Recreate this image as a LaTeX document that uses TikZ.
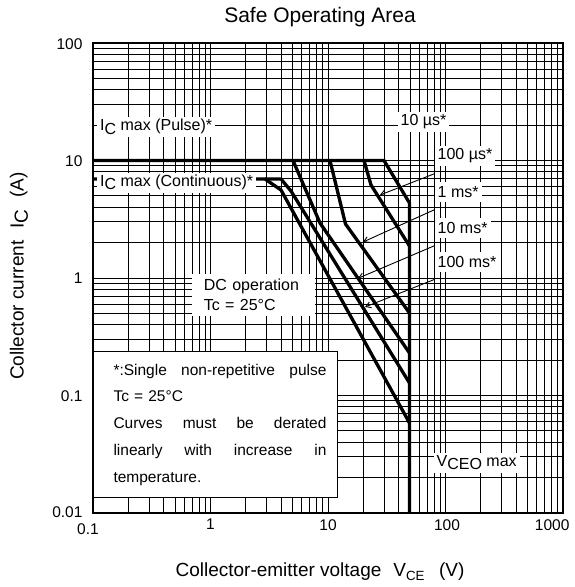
\documentclass[tikz,border=0pt]{standalone}
\usepackage{fontspec}
\setmainfont{Liberation Sans}
\usetikzlibrary{arrows.meta,positioning}
\newcommand{\decade}{117.5}
\newcommand{\lowsub}[1]{\raisebox{-0.22em}{#1}}
\newcommand{\fullline}[1]{\makebox[213pt][s]{#1}}
\newcommand{\labelFont}{\fontsize{16pt}{20.7pt}\selectfont}
\newcommand{\tickFont}{\fontsize{15.5pt}{18pt}\selectfont}
\newcommand{\axisFont}{\fontsize{19pt}{22pt}\selectfont}

\begin{document}
\begin{tikzpicture}[x=1pt, y=-1pt]
  \tikzset{
    gridline/.style={line width=1pt},
    soaline/.style={line width=3.3pt},
    frameline/.style={line width=2.2pt},
    curvelabel/.style={fill=white, inner xsep=3pt, inner ysep=0pt, minimum height=20pt, font=\labelFont},
    ticklabel/.style={font=\tickFont},
    pointer/.style={line width=0.9pt, -{Straight Barb[length=5pt,width=6pt]}}
  }
  \useasboundingbox (0,0) rectangle (574,587);
  % log grid
  \foreach \k in {0,...,3}
    \foreach \m in {1,...,9} {
      \pgfmathsetmacro{\g}{\decade*(\k+log10(\m))}
      \draw[gridline] (93+\g,43) -- (93+\g,513);
      \draw[gridline] (93,513-\g) -- (563,513-\g);
    }
  % limit curves
  \draw[soaline] (93,160.5) -- (384,160.5) -- (409.5,203) -- (409.5,513);
  \draw[soaline] (364,160.5) -- (371,185) -- (409.5,246);
  \draw[soaline] (330,160.5) -- (345.5,224) -- (409.5,313);
  \draw[soaline] (293,160.5) -- (320,223) -- (409.5,353);
  \draw[soaline] (265,179) -- (281,179) -- (291,191) -- (409.5,383);
  \draw[soaline] (93,179) -- (265,179) -- (281,190) -- (409.5,423);
  % curve labels
  \node[curvelabel, anchor=west] (pulse) at (97,127) {I\lowsub{C} max (Pulse)*};
  \node[curvelabel, anchor=west] (cont) at (97,182.5) {I\lowsub{C} max (Continuous)*};
  \node[curvelabel, anchor=west] (l10us) at (397.5,121.7) {10 µs*};
  \node[curvelabel, anchor=west] (l100us) at (434.5,156) {100 µs*};
  \node[curvelabel, anchor=west] (l1ms) at (434.5,192) {1 ms*};
  \node[curvelabel, anchor=west] (l10ms) at (434.5,228) {10 ms*};
  \node[curvelabel, anchor=west] (l100ms) at (434.5,261.7) {100 ms*};
  \node[curvelabel, anchor=west] (vceo) at (433.5,462.7) {V\lowsub{CEO} max};
  \node[fill=white, anchor=north west, text width=99pt, inner xsep=12pt, minimum height=42.7pt,
        align=left, font=\labelFont] (dcop) at (191.7,273.3) {DC operation\\Tc = 25°C};
  % note box
  \node[draw, fill=white, line width=1.2pt, anchor=north west, minimum width=244pt,
        minimum height=146pt, inner sep=0pt] (notebox) at (93,351) {};
  \node[anchor=west, text width=213.4pt, align=left, inner sep=0pt,
        font=\fontsize{15.5pt}{26.8pt}\selectfont] (notetext) at ([xshift=20.3pt]notebox.west)
    {\fullline{*:Single\hfill non-repetitive\hfill pulse}\\
     Tc = 25°C\\
     \fullline{Curves\hfill must\hfill be\hfill derated}\\
     \fullline{linearly\hfill with\hfill increase\hfill in}\\
     temperature.};
  \draw[frameline] (93,43) rectangle (563,513);
  % pointers
  \coordinate (on100us) at (380,195);
  \coordinate (on1ms) at (363,242);
  \coordinate (on10ms) at (358,278.3);
  \coordinate (on100ms) at (365,307);
  \draw[pointer] ([yshift=-7.5pt]l100us.south west) -- (on100us);
  \draw[pointer] ([yshift=-7.5pt]l1ms.south west) -- (on1ms);
  \draw[pointer] ([yshift=-7.5pt]l10ms.south west) -- (on10ms);
  \draw[pointer] ([yshift=-7.5pt]l100ms.south west) -- (on100ms);
  % ticks
  \node[ticklabel, anchor=east] (y100) at (86,44) {100};
  \node[ticklabel, anchor=east] (y10) at (86,161) {10};
  \node[ticklabel, anchor=east] (y1) at (86,278) {1};
  \node[ticklabel, anchor=east] (y01) at (86,396) {0.1};
  \node[ticklabel, anchor=east] (y001) at (86,512) {0.01};
  \node[ticklabel] (x01) at (88,529) {0.1};
  \node[ticklabel] (x1) at (210.5,524) {1};
  \node[ticklabel] (x10) at (328,525) {10};
  \node[ticklabel] (x100) at (447,525) {100};
  \node[ticklabel, anchor=east] (x1000) at (573,525) {1000};
  % titles
  \node[font=\fontsize{21pt}{24pt}\selectfont] (title) at (320,17) {Safe Operating Area};
  \node[font=\axisFont] (xlabel) at (320,572)
    {Collector-emitter voltage\hspace{12pt}V\textsubscript{CE}\hspace{14pt}(V)};
  \node[font=\axisFont, rotate=90] (ylabel) at (19,276)
    {Collector current\hspace{12pt}I\lowsub{C}\hspace{12pt}(A)};
\end{tikzpicture}
\end{document}
